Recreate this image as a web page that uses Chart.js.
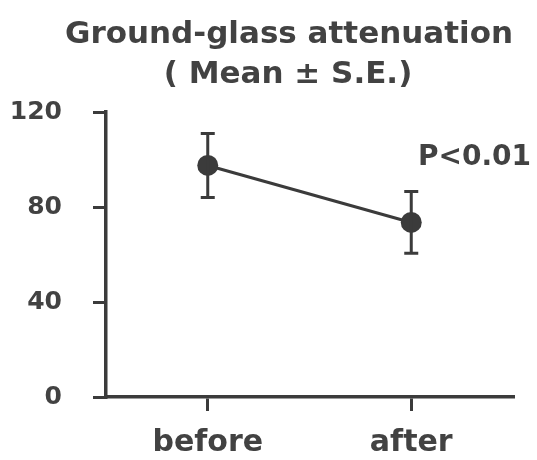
<!DOCTYPE html>
<html>
<head>
<meta charset="utf-8">
<script src="https://cdn.jsdelivr.net/npm/chart.js@4/dist/chart.umd.min.js"></script>
<style>
  html, body { margin: 0; padding: 0; background: #ffffff; }
  #wrap { width: 537px; height: 460px; position: relative; }
</style>
</head>
<body>
<div id="wrap"><canvas id="c" width="537" height="460"></canvas></div>
<script>
// ---- data ----
const categories = ['before', 'after'];
const meanValues = [97.5, 73.5];
const seValues = [13.5, 13];
const yTicks = [0, 40, 80, 120];
const titleLines = ['Ground-glass attenuation', '( Mean \u00B1 S.E.)'];
const annotationText = 'P<0.01';

const INK = '#3b3b3b';
const TEXT = '#424242';
const FONT = '"DejaVu Sans", "Liberation Sans", Arial, sans-serif';

const errorBarPlugin = {
  id: 'errorBars',
  afterDatasetsDraw(chart) {
    const ctx = chart.ctx;
    const xs = chart.scales.x, ys = chart.scales.y;
    ctx.save();
    ctx.strokeStyle = INK;
    ctx.lineWidth = 3;
    ctx.lineCap = 'butt';
    meanValues.forEach((m, i) => {
      const x = xs.getPixelForValue(i);
      const yTop = ys.getPixelForValue(m + seValues[i]);
      const yBot = ys.getPixelForValue(m - seValues[i]);
      const cap = 7;
      ctx.beginPath();
      ctx.moveTo(x, yTop); ctx.lineTo(x, yBot);
      ctx.moveTo(x - cap, yTop); ctx.lineTo(x + cap, yTop);
      ctx.moveTo(x - cap, yBot); ctx.lineTo(x + cap, yBot);
      ctx.stroke();
    });
    ctx.restore();
  }
};

const textPlugin = {
  id: 'texts',
  afterDraw(chart) {
    const ctx = chart.ctx;
    ctx.save();
    ctx.fillStyle = TEXT;
    ctx.textBaseline = 'alphabetic';
    ctx.textAlign = 'center';
    ctx.font = 'bold 31px ' + FONT;
    ctx.fillText(titleLines[0], 289, 43);
    ctx.fillText(titleLines[1], 288, 83);
    ctx.textAlign = 'left';
    ctx.font = 'bold 28px ' + FONT;
    ctx.fillText(annotationText, 418, 165);
    ctx.restore();
  }
};

new Chart(document.getElementById('c'), {
  type: 'line',
  data: {
    labels: categories,
    datasets: [{
      data: meanValues,
      borderColor: INK,
      borderWidth: 3,
      backgroundColor: INK,
      pointBackgroundColor: INK,
      pointBorderColor: INK,
      pointBorderWidth: 0,
      pointRadius: 10.5,
      tension: 0,
      fill: false
    }]
  },
  options: {
    responsive: false,
    animation: false,
    devicePixelRatio: 1,
    layout: { padding: { left: 0, top: 112, right: 24, bottom: 0 } },
    plugins: {
      legend: { display: false },
      title: { display: false },
      tooltip: { enabled: false }
    },
    scales: {
      x: {
        type: 'category',
        offset: true,
        grid: {
          offset: false,
          drawOnChartArea: false,
          drawTicks: true,
          tickLength: 14,
          lineWidth: 3,
          color: INK
        },
        border: { display: true, width: 3.5, color: INK },
        ticks: {
          color: TEXT,
          font: { family: FONT, size: 30, weight: 'bold' },
          padding: 14,
          maxRotation: 0
        },
        afterFit(scale) { scale.height = 63; }
      },
      y: {
        min: 0,
        max: 120,
        afterBuildTicks(scale) { scale.ticks = yTicks.map(v => ({ value: v })); },
        grid: {
          drawOnChartArea: false,
          drawTicks: true,
          tickLength: 13,
          lineWidth: 3,
          color: INK
        },
        border: { display: true, width: 3.5, color: INK },
        ticks: {
          color: TEXT,
          font: { family: FONT, size: 25, weight: 'bold' },
          padding: 31
        },
        afterFit(scale) { scale.width = 106; }
      }
    }
  },
  plugins: [errorBarPlugin, textPlugin]
});
</script>
</body>
</html>
